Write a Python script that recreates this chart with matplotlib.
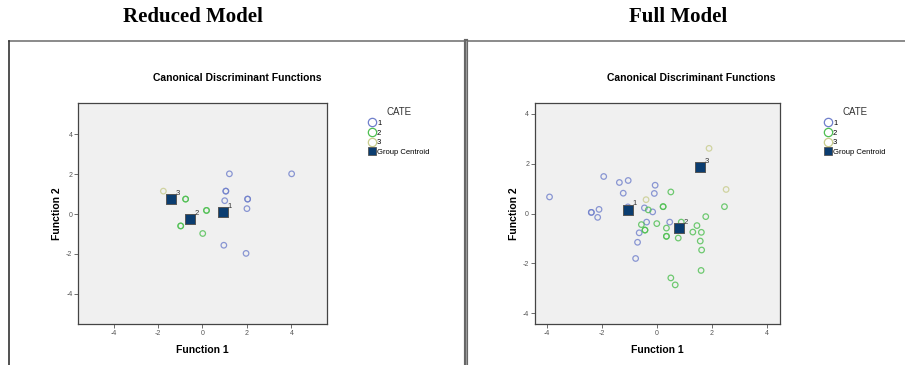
import matplotlib.pyplot as plt
from matplotlib.lines import Line2D

# Reduced model: function scores per case
red_g1_x = [1.21, 4.01, 1.05, 1.05, 1.00, 2.03, 2.03, 2.00, 0.96, 1.96]
red_g1_y = [2.02, 2.02, 1.15, 1.15, 0.67, 0.75, 0.75, 0.27, -1.57, -1.98]
red_g2_x = [-0.76, -0.76, 0.18, 0.18, -0.98, -0.98, 0.01]
red_g2_y = [0.75, 0.75, 0.18, 0.18, -0.60, -0.60, -0.98]
red_g3_x = [-1.76]
red_g3_y = [1.15]
red_cent_x = [0.92, -0.58, -1.41]
red_cent_y = [0.10, -0.25, 0.73]

# Full model
full_g1_x = [-3.91, -1.94, -1.37, -1.05, -1.23, -0.07, -0.10, -2.39, -2.39,
             -2.11, -2.16, -1.06, -0.46, -0.16, -0.38, -0.65, -0.71, -0.78, 0.46]
full_g1_y = [0.67, 1.49, 1.25, 1.33, 0.82, 1.14, 0.81, 0.05, 0.05,
             0.17, -0.15, 0.27, 0.23, 0.07, -0.34, -0.77, -1.15, -1.80, -0.34]
full_g2_x = [0.50, -0.32, 0.22, 0.22, -0.57, -0.44, -0.44, -0.01, 0.34, 0.34,
             0.34, 0.77, 0.88, 1.30, 1.45, 1.61, 1.57, 1.62, 1.77, 2.45,
             1.60, 0.50, 0.66]
full_g2_y = [0.87, 0.15, 0.28, 0.28, -0.44, -0.66, -0.66, -0.40, -0.58, -0.91,
             -0.91, -0.98, -0.34, -0.74, -0.48, -0.75, -1.10, -1.46, -0.12, 0.28,
             -2.28, -2.58, -2.86]
full_g3_x = [-0.40, 1.89, 2.51]
full_g3_y = [0.56, 2.62, 0.97]
full_cent_x = [-1.06, 0.80, 1.55]
full_cent_y = [0.16, -0.59, 1.88]

cent_labels = ["1", "2", "3"]
ticks = [-4, -2, 0, 2, 4]
tick_labels = ["-4", "-2", "0", "2", "4"]

c_blue = "#6f7fcb"
c_green = "#4dbf50"
c_yellow = "#c8cc8c"
c_cent = "#0b3d70"

fig = plt.figure(figsize=(9.05, 3.65), dpi=100)
plt.rcParams["font.family"] = ["Liberation Sans", "DejaVu Sans"]


def draw_panel(ax, g1, g2, g3, cent, lim_x, lim_y):
    ax.set_facecolor("#f0f0f0")
    for (xs, ys), col in zip([g1, g2, g3], [c_blue, c_green, c_yellow]):
        ax.scatter(xs, ys, s=16, facecolors="none", edgecolors=col,
                   linewidths=0.9, alpha=0.8, zorder=2)
    ax.scatter(cent[0], cent[1], s=42, marker="s", color=c_cent,
               edgecolors="#555555", linewidths=0.7, zorder=3)
    for x, y, lab in zip(cent[0], cent[1], cent_labels):
        ax.annotate(lab, (x, y), xytext=(3.5, 3), textcoords="offset points",
                    fontsize=5.5, color="#333333")
    ax.set_xlim(*lim_x)
    ax.set_ylim(*lim_y)
    ax.set_xticks(ticks)
    ax.set_xticklabels(tick_labels)
    ax.set_yticks(ticks)
    ax.set_yticklabels(tick_labels)
    ax.tick_params(labelsize=5, length=3, width=0.6, colors="#555555", pad=1)
    for sp in ax.spines.values():
        sp.set_color("#444444")
        sp.set_linewidth(0.9)
    ax.set_xlabel("Function 1", fontsize=7.5, fontweight="bold", labelpad=6)
    ax.set_ylabel("Function 2", fontsize=7.5, fontweight="bold", labelpad=3)


ax1 = fig.add_axes([0.0862, 0.1123, 0.2751, 0.6055])
draw_panel(ax1, (red_g1_x, red_g1_y), (red_g2_x, red_g2_y), (red_g3_x, red_g3_y),
           (red_cent_x, red_cent_y), (-5.6, 5.6), (-5.53, 5.58))

ax2 = fig.add_axes([0.5908, 0.1123, 0.2714, 0.6055])
draw_panel(ax2, (full_g1_x, full_g1_y), (full_g2_x, full_g2_y), (full_g3_x, full_g3_y),
           (full_cent_x, full_cent_y), (-4.45, 4.48), (-4.43, 4.44))

# Titles
fig.text(193 / 905, 1 - 17 / 365, "Reduced Model", ha="center", va="center",
         fontsize=15, fontweight="bold", family="Liberation Serif")
fig.text(678 / 905, 1 - 17 / 365, "Full Model", ha="center", va="center",
         fontsize=15, fontweight="bold", family="Liberation Serif")
fig.text(237 / 905, 1 - 78 / 365, "Canonical Discriminant Functions", ha="center",
         va="center", fontsize=7.5, fontweight="bold")
fig.text(691 / 905, 1 - 78 / 365, "Canonical Discriminant Functions", ha="center",
         va="center", fontsize=7.5, fontweight="bold")

# Legends
handles = [
    Line2D([], [], marker="o", ls="", ms=6, mfc="none", mec=c_blue, mew=0.9),
    Line2D([], [], marker="o", ls="", ms=6, mfc="none", mec=c_green, mew=0.9),
    Line2D([], [], marker="o", ls="", ms=6, mfc="none", mec=c_yellow, mew=0.9),
    Line2D([], [], marker="s", ls="", ms=6, color=c_cent, mec="#555555", mew=0.6),
]
labels = ["1", "2", "3", "Group Centroid"]
for lx in (369 / 905, 825 / 905):
    leg = fig.legend(handles, labels, title="CATE", loc="upper left",
                     bbox_to_anchor=(lx, 1 - 107 / 365), frameon=False,
                     fontsize=5.5, title_fontsize=7, labelspacing=0.32,
                     handlelength=0.7, handletextpad=0.35, borderpad=0,
                     borderaxespad=0)
    leg.get_title().set_color("#333333")
    leg._legend_box.align = "left"
    leg.get_title().set_position((17, 0))

# Frame lines
fig.add_artist(Line2D([9 / 905, 1], [1 - 41 / 365] * 2, color="#777777", lw=1.2))
fig.add_artist(Line2D([9 / 905] * 2, [0, 1 - 41 / 365], color="#333333", lw=1.2))
fig.add_artist(Line2D([465.5 / 905] * 2, [0, 1 - 41 / 365], color="#666666", lw=3))
fig.add_artist(Line2D([465.5 / 905] * 2, [0, 1 - 41 / 365], color="#999999", lw=0.8))

fig.savefig("out.png", dpi=100)
